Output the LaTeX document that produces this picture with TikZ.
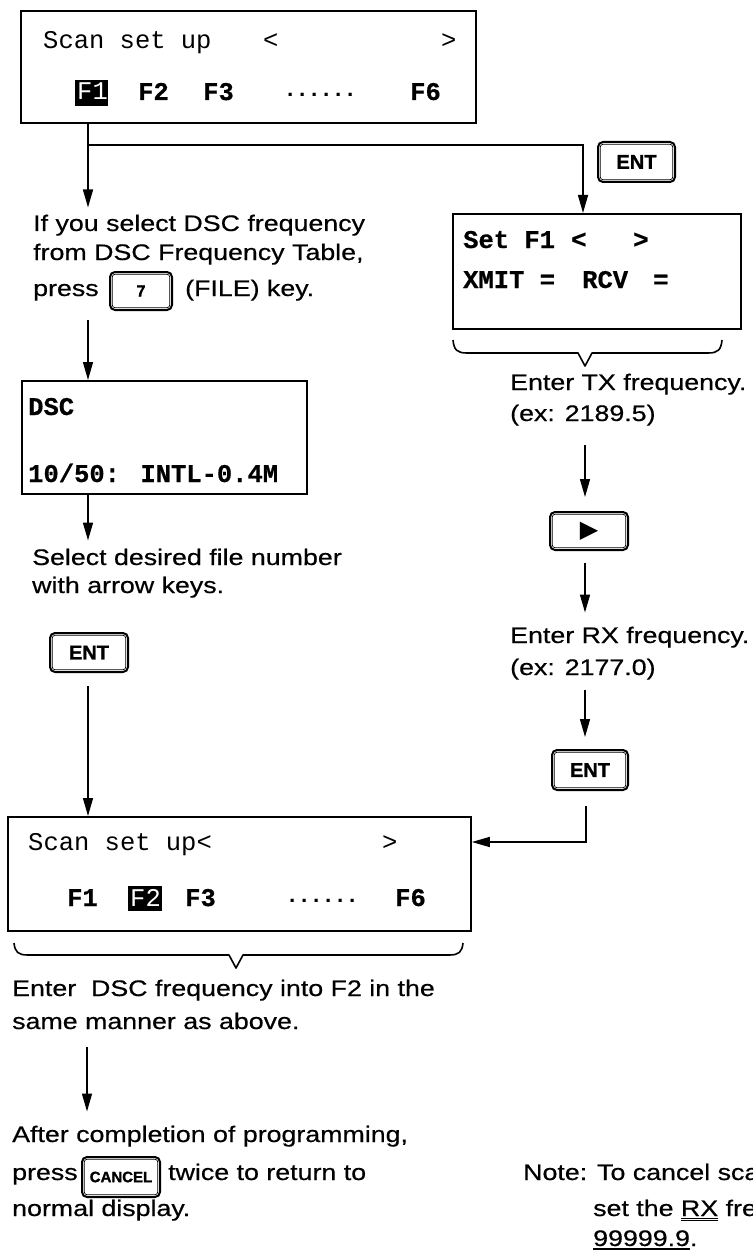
\documentclass[tikz,border=0pt]{standalone}
\usepackage{fontspec}
\setmainfont{Liberation Sans}
\newfontfamily\lcdfont[BoldFeatures={FakeBold=0.6}]{Liberation Mono}
\newfontfamily\txtfont[FakeStretch=1.19,FakeBold=0.5]{Liberation Sans}
\newfontfamily\keyfont[BoldFeatures={FakeBold=1.2}]{Liberation Sans}
\newfontfamily\symfont{DejaVu Sans}
\usetikzlibrary{arrows.meta,calc}
\newcommand\myul[1]{\vtop{\hbox{#1}\kern2.2pt\hrule height 1.3pt}}
\newcommand\mydul[1]{\vtop{\hbox{#1}\kern2.2pt\hrule height 0.8pt\kern1.2pt\hrule height 0.8pt}}
\newcommand\keyin[1]{\draw[line width=0.7pt, rounded corners=3pt] ([shift={(3.2pt,-3.2pt)}]#1.north west) rectangle ([shift={(-3.2pt,3.2pt)}]#1.south east);}
\tikzset{
  lcd/.style={draw, line width=1.8pt, anchor=north west, inner sep=0pt},
  mono/.style={anchor=base west, inner sep=0pt, font=\lcdfont\fontsize{25.5}{26}\selectfont},
  monob/.style={anchor=base west, inner sep=0pt, font=\lcdfont\bfseries\fontsize{25.5}{26}\selectfont},
  dotrow/.style={anchor=base west, inner sep=0pt, font=\lcdfont\bfseries\fontsize{20}{20}\selectfont},
  hl/.style={fill=black, inner sep=0pt},
  txt/.style={anchor=base west, inner sep=0pt, font=\txtfont\fontsize{22.5}{26}\selectfont},
  keybox/.style={draw, line width=2pt, rounded corners=5pt, inner sep=0pt, font=\keyfont\bfseries\fontsize{20}{20}\selectfont},
  arr/.style={line width=1.5pt, -{Triangle[length=18pt,width=10pt]}},
  brace/.style={line width=1.6pt, line join=round}
}
\begin{document}
\begin{tikzpicture}[x=1pt,y=-1pt]
\useasboundingbox (0,0) rectangle (752,1257);

% ---------- top LCD ----------
\node[lcd, minimum width=455pt, minimum height=112pt] (top) at (20,10) {};
\node[mono] (t1) at (43,49) {Scan set up};
\node[mono] (t1l) at (263,49) {<};
\node[mono] (t1r) at (441,49) {>};
\node[hl, minimum width=33pt, minimum height=26pt] (h1) at (91.5,93) {};
\node[mono, text=white] (f1a) at (77,100) {F1};
\node[monob] (f2a) at (138,100) {F2};
\node[monob] (f3a) at (203,100) {F3};
\node[dotrow] (d1a) at (284,100) {······};
\node[monob] (f6a) at (410,100) {F6};

% ---------- Set F1 LCD ----------
\node[lcd, minimum width=288pt, minimum height=115pt] (setf) at (452,213) {};
\node[monob] (s1) at (463,248) {Set F1};
\node[monob] (s1l) at (571,248) {<};
\node[monob] (s1r) at (633,248) {>};
\node[monob] (s2) at (463,288) {XMIT =};
\node[monob] (s3) at (582,288) {RCV};
\node[monob] (s4) at (653,288) {=};

% ---------- DSC LCD ----------
\node[lcd, minimum width=285pt, minimum height=113pt] (dsc) at (21,380) {};
\node[monob] (ds1) at (28,415) {DSC};
\node[monob] (ds2) at (28,482) {10/50: INTL-0.4M};

% ---------- bottom LCD ----------
\node[lcd, minimum width=463pt, minimum height=114pt] (bot) at (7,816) {};
\node[mono] (b1t) at (28,850) {Scan set up<};
\node[mono] (b1r) at (382,850) {>};
\node[monob] (f1b) at (67,906) {F1};
\node[hl, minimum width=34pt, minimum height=25pt] (h2) at (145,898.5) {};
\node[mono, text=white] (f2b) at (130,906) {F2};
\node[monob] (f3b) at (185,906) {F3};
\node[dotrow] (d1b) at (286,906) {······};
\node[monob] (f6b) at (395,906) {F6};

% ---------- left column texts ----------
\node[txt] (a1) at (33,231) {If you select DSC frequency};
\node[txt] (a2) at (33,260) {from DSC Frequency Table,};
\node[txt] (a3) at (33,296) {press};
\node[keybox, minimum width=62pt, minimum height=38pt, font=\keyfont\bfseries\fontsize{16}{16}\selectfont] (k7) at (141,291) {7};
\node[txt] (a4) at (185,296) {(FILE) key.};
\node[txt] (b1) at (32,565) {Select desired file number};
\node[txt] (b2) at (32,593) {with arrow keys.};
\node[keybox, minimum width=78pt, minimum height=39pt] (ent2) at (89,652.5) {ENT};

% ---------- right column ----------
\node[keybox, minimum width=77pt, minimum height=40pt] (ent1) at (636.5,162) {ENT};
\node[txt] (c1) at (510,390) {Enter TX frequency.};
\node[txt] (c2) at (510,421) {(ex: 2189.5)};
\node[keybox, minimum width=78pt, minimum height=38pt, font=\symfont\fontsize{24}{24}\selectfont] (play) at (589,531) {▶};
\node[txt] (c3) at (510,643) {Enter RX frequency.};
\node[txt] (c4) at (510,675) {(ex: 2177.0)};
\node[keybox, minimum width=76pt, minimum height=40pt] (ent3) at (590,770) {ENT};

% ---------- bottom texts ----------
\node[txt] (e0) at (12,996) {Enter\ \ DSC frequency into F2 in the};
\node[txt] (e0b) at (12,1029) {same manner as above.};
\node[txt] (e1) at (12,1142) {After completion of programming,};
\node[txt] (e2) at (12,1180) {press};
\node[keybox, minimum width=78pt, minimum height=40pt, font=\keyfont\bfseries\fontsize{15}{15}\selectfont] (cancel) at (121,1177) {CANCEL};
\node[txt] (e3) at (168,1180) {twice to return to};
\node[txt] (e4) at (12,1216) {normal display.};
\node[txt] (n1) at (523,1180) {Note: To cancel sca};
\node[txt] (n2) at (593,1216) {set the \mydul{RX} fre};
\node[txt] (n3) at (593,1246) {\myul{99999.9}.};

% key inner outlines
\keyin{k7}\keyin{ent1}\keyin{ent2}\keyin{play}\keyin{ent3}\keyin{cancel}

% ---------- connectors ----------
\coordinate (j) at (88,145);
\coordinate (jr) at (583,145);
\coordinate (col) at (585,0);
\coordinate (bj) at (586,842);
\coordinate (lc) at (87,0);

\draw[arr] (top.south -| j) -- ([yshift=7pt]j |- a1.north);
\draw[arr] (j) -- (jr) -- (jr |- setf.north);
\draw[arr] ([yshift=-9pt]k7.south -| j) -- (dsc.north -| j);
\draw[arr] (dsc.south -| j) -- ([yshift=8pt]b1.north -| j);
\draw[arr] ([yshift=-13pt]ent2.south -| j) -- (bot.north -| j);

\draw[arr] ([yshift=-19pt]c2.south -| col) -- ([yshift=14pt]play.north -| col);
\draw[arr] ([yshift=-12pt]play.south -| col) -- ([yshift=14pt]c3.north -| col);
\draw[arr] ([yshift=-10pt]c4.south -| col) -- ([yshift=12pt]ent3.north -| col);
\draw[arr] ([yshift=-15pt]ent3.south -| bj) -- (bj) -- (bj -| bot.east);

\draw[arr] ([yshift=-18pt]e0b.south -| lc) -- ([yshift=14pt]e1.north -| lc);

% braces
\draw[brace] (453,340) .. controls (454,350) and (457,353) .. (467,353) -- (578,353) -- (585,366) -- (592,353) -- (708,353) .. controls (718,353) and (721,350) .. (722,340);
\draw[brace] (14,943) .. controls (15,952) and (18,955) .. (28,955) -- (229,955) -- (236,968) -- (243,955) -- (449,955) .. controls (459,955) and (462,952) .. (463,943);
\end{tikzpicture}
\end{document}
